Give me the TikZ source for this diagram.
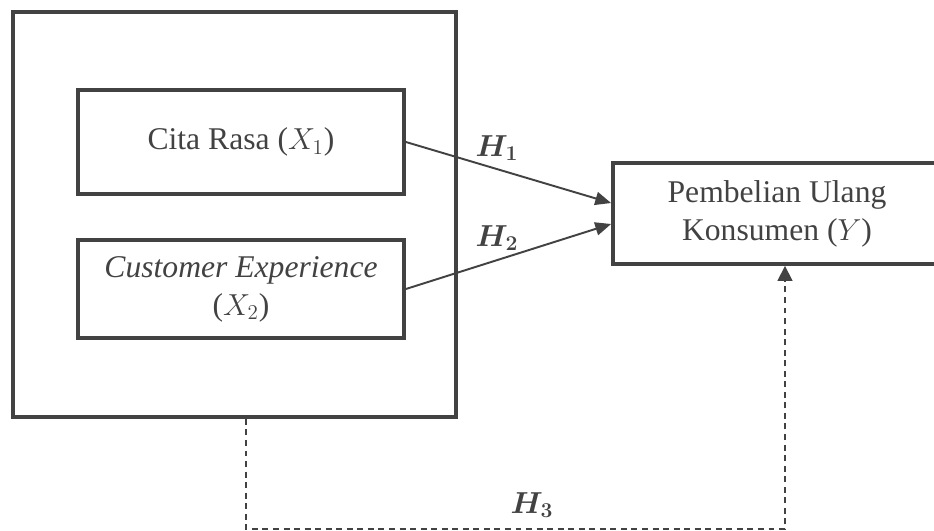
\documentclass[tikz,border=0pt]{standalone}
\usepackage{fontspec}
\setmainfont{Liberation Serif}
\usepackage{bm}
\usetikzlibrary{arrows.meta}
\definecolor{lineGray}{HTML}{424242}
\tikzset{
	varBox/.style={draw=lineGray, line width=2.2pt, text=lineGray, align=center, font=\fontsize{18}{21.6}\selectfont},
	hypLabel/.style={text=lineGray, font=\fontsize{18.5}{22}\selectfont},
	hypArrow/.style={draw=lineGray, line width=1.1pt, -{Triangle[length=9pt,width=7.5pt]}},
	hypDashed/.style={draw=lineGray, line width=0.9pt, dash pattern=on 3.4pt off 2.6pt, -{Triangle[length=8.5pt,width=8.5pt]}}
}
\begin{document}
\begin{tikzpicture}[x=0.02cm, y=-0.02cm]
		\pgfmathsetmacro{\boxWidth}{6.52}
		\useasboundingbox (0, 0) rectangle (934, 531);
		\clip (0, 0) rectangle (934, 531);
		\node[varBox, minimum width=8.86cm, minimum height=8.1cm] (group) at (234.5, 214.5) {};
		\node[varBox, minimum width=\boxWidth cm, minimum height=2.08cm] (X1) at (241, 142) {Cita Rasa ($X_1$)};
		\node[varBox, minimum width=\boxWidth cm, minimum height=1.96cm] (X2) at (241, 289) {\textit{Customer Experience}\\($X_2$)};
		\node[varBox, minimum width=6.56cm, minimum height=2.02cm] (Y) at (777, 213.5) {Pembelian Ulang\\Konsumen ($Y$)};
		\draw[hypArrow] (X1.east) -- ([yshift=0.21cm]Y.west);
		\draw[hypArrow] (X2.east) -- ([yshift=-0.21cm]Y.west);
		\draw[hypDashed] ([xshift=0.23cm]group.south) -- ++(0, 110) -| ([xshift=0.16cm]Y.south);
		\node[hypLabel] (H1) at (497, 148) {$\bm{H_1}$};
		\node[hypLabel] (H2) at (497, 238) {$\bm{H_2}$};
		\node[hypLabel] (H3) at (532, 505) {$\bm{H_3}$};
	\end{tikzpicture}
\end{document}
